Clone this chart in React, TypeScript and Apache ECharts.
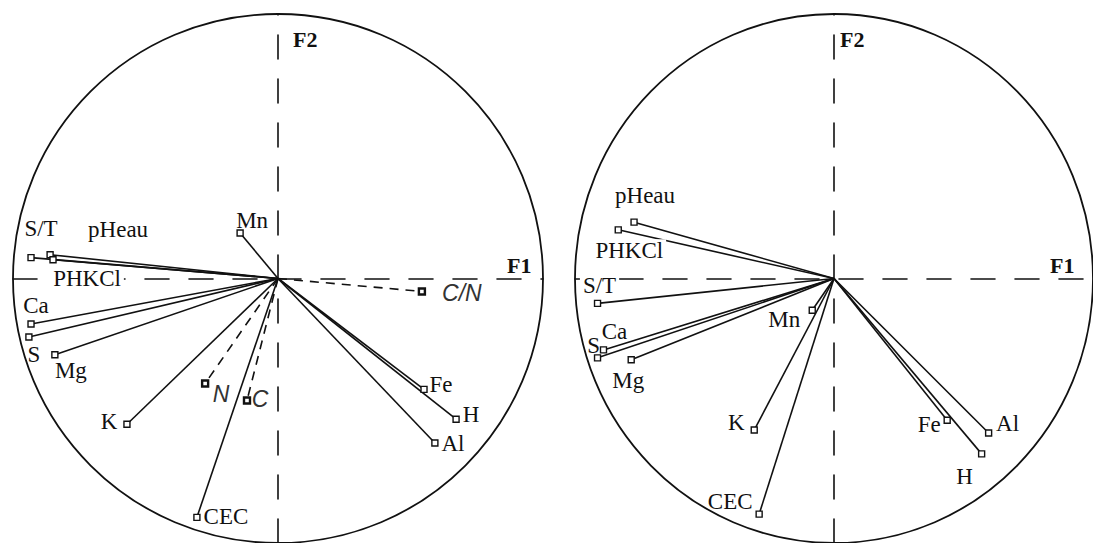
import React, { useEffect, useRef } from 'react';
import * as echarts from 'echarts';

// Left correlation circle (F1 x F2), active + supplementary variables
const leftVars = ['S/T', 'pHeau', 'PHKCl', 'Mn', 'Ca', 'S', 'Mg', 'N', 'C', 'K', 'CEC', 'C/N', 'Fe', 'H', 'Al'];
const leftF1 = [-0.932, -0.86, -0.849, -0.143, -0.932, -0.94, -0.842, -0.275, -0.117, -0.57, -0.306, 0.543, 0.551, 0.672, 0.592];
const leftF2 = [0.079, 0.09, 0.071, 0.172, -0.172, -0.221, -0.288, -0.397, -0.461, -0.551, -0.903, -0.049, -0.419, -0.532, -0.622];
const leftSupplementary = ['N', 'C', 'C/N'];

// Right correlation circle
const rightVars = ['pHeau', 'PHKCl', 'S/T', 'Ca', 'S', 'Mg', 'Mn', 'K', 'CEC', 'Fe', 'Al', 'H'];
const rightF1 = [-0.772, -0.833, -0.913, -0.89, -0.913, -0.783, -0.084, -0.308, -0.289, 0.437, 0.597, 0.57];
const rightF2 = [0.213, 0.184, -0.094, -0.27, -0.3, -0.307, -0.12, -0.573, -0.891, -0.536, -0.584, -0.663];
const rightSupplementary: string[] = [];

const axisNames = ['F1', 'F2'];

// label placement (text centre relative to marker, px)
const leftLabelOffset: Record<string, [number, number]> = {
  'S/T': [10, -29], pHeau: [68, -25], PHKCl: [34, 19], Mn: [12, -13], Ca: [5, -18], S: [5, 18],
  Mg: [16, 16], N: [16, 10], C: [13, -1], K: [-18, -3], CEC: [29, -1], 'C/N': [40, 2],
  Fe: [17, -5], H: [15, -5], Al: [18, 0],
};
const rightLabelOffset: Record<string, [number, number]> = {
  pHeau: [11, -27], PHKCl: [11, 21], 'S/T': [2, -18], Ca: [11, -18], S: [-4, -12], Mg: [-3, 21],
  Mn: [-28, 9], K: [-18, -8], CEC: [-29, -13], Fe: [-18, 4], Al: [19, -9], H: [-17, 23],
};
// labels that sit on the F1 axis and mask it
const maskedLabels = ['PHKCl', 'S/T'];

const INK = '#111';

function panelSeries(
  idx: number,
  names: string[],
  f1: number[],
  f2: number[],
  supp: string[],
  offsets: Record<string, [number, number]>,
  masked: string[]
): any[] {
  return [
    {
      type: 'custom',
      xAxisIndex: idx,
      yAxisIndex: idx,
      silent: true,
      clip: false,
      data: [[0, 0]],
      renderItem: (_p: any, api: any) => {
        const c = api.coord([0, 0]);
        const s = api.size([1, 1]);
        return {
          type: 'ellipse',
          shape: { cx: c[0], cy: c[1], rx: s[0], ry: s[1] },
          style: { fill: 'none', stroke: INK, lineWidth: 1.8 },
        };
      },
      z: 1,
    },
    {
      type: 'custom',
      xAxisIndex: idx,
      yAxisIndex: idx,
      silent: true,
      clip: false,
      data: names.map((n, i) => ({ name: n, value: [f1[i], f2[i], supp.includes(n) ? 1 : 0] })),
      renderItem: (_p: any, api: any) => {
        const o = api.coord([0, 0]);
        const p = api.coord([api.value(0), api.value(1)]);
        const dashed = api.value(2) === 1;
        return {
          type: 'line',
          shape: { x1: o[0], y1: o[1], x2: p[0], y2: p[1] },
          style: { stroke: INK, lineWidth: 1.6, lineDash: dashed ? [9, 7] : null },
        };
      },
      z: 2,
    },
    {
      type: 'scatter',
      xAxisIndex: idx,
      yAxisIndex: idx,
      silent: true,
      symbol: 'rect',
      symbolSize: 6,
      itemStyle: { color: '#fff', borderColor: INK, borderWidth: 1.4, opacity: 1 },
      label: {
        show: true,
        position: 'inside',
        formatter: '{b}',
        color: INK,
        fontFamily: 'Liberation Serif',
        fontSize: 23,
        align: 'center',
        verticalAlign: 'middle',
      },
      data: names.map((n, i) => {
        const isSupp = supp.includes(n);
        const isMasked = masked.includes(n);
        return {
          name: n,
          value: [f1[i], f2[i]],
          itemStyle: isSupp ? { borderWidth: 2.4 } : undefined,
          label: {
            offset: offsets[n] || [0, 0],
            ...(isMasked ? { backgroundColor: '#fff', padding: [0, 3, 0, 3] } : {}),
            ...(isSupp ? { fontStyle: 'italic', fontFamily: 'Liberation Sans', fontSize: 23, color: '#333' } : {}),
          },
        };
      }),
      z: 3,
    },
  ];
}

function axes(idx: number, f1Gap: number, f2Pad: number) {
  const dash = { type: [24, 20] as any, color: INK, width: 1.6 };
  const x = {
    type: 'value',
    gridIndex: idx,
    min: -1,
    max: 1,
    name: axisNames[0],
    nameLocation: 'end',
    nameGap: f1Gap,
    nameTextStyle: {
      fontFamily: 'Liberation Serif',
      fontWeight: 'bold',
      fontSize: 22,
      color: INK,
      align: 'left',
      verticalAlign: 'bottom',
      padding: [0, 0, 2, 0],
    },
    axisLine: { show: true, onZero: true, lineStyle: dash },
    axisTick: { show: false },
    axisLabel: { show: false },
    splitLine: { show: false },
  };
  const y = {
    type: 'value',
    gridIndex: idx,
    min: -1,
    max: 1,
    name: axisNames[1],
    nameLocation: 'end',
    nameGap: -14,
    nameTextStyle: {
      fontFamily: 'Liberation Serif',
      fontWeight: 'bold',
      fontSize: 22,
      color: INK,
      align: 'left',
      verticalAlign: 'top',
      padding: [0, 0, 0, f2Pad],
    },
    axisLine: { show: true, onZero: true, lineStyle: dash },
    axisTick: { show: false },
    axisLabel: { show: false },
    splitLine: { show: false },
  };
  return { x, y };
}

export default function App() {
  const ref = useRef<HTMLDivElement>(null);
  useEffect(() => {
    if (!ref.current) return;
    const chart = echarts.init(ref.current, undefined, { renderer: 'svg' });
    const a0 = axes(0, -36, 15);
    const a1 = axes(1, -43, 6);
    chart.setOption({
      animation: false,
      backgroundColor: '#fff',
      grid: [
        { left: 13, top: 14, width: 530, height: 534 },
        { left: 575, top: 14, width: 526, height: 534 },
      ],
      xAxis: [a0.x, a1.x],
      yAxis: [a0.y, a1.y],
      series: [
        ...panelSeries(0, leftVars, leftF1, leftF2, leftSupplementary, leftLabelOffset, ['PHKCl']),
        ...panelSeries(1, rightVars, rightF1, rightF2, rightSupplementary, rightLabelOffset, maskedLabels),
      ],
    });
    return () => chart.dispose();
  }, []);
  return (
    <div
      ref={ref}
      style={{ position: 'fixed', left: 0, top: 0, width: 1093, height: 543, background: '#fff' }}
    />
  );
}
